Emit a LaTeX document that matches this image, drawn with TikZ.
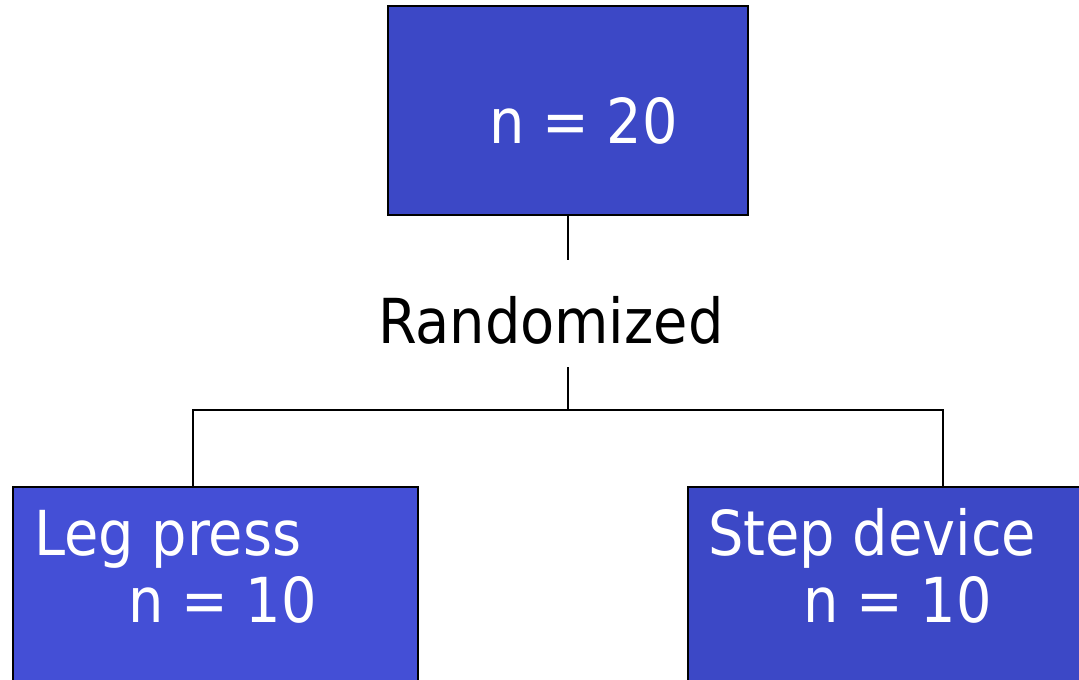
\documentclass[tikz,border=0pt]{standalone}
\usepackage{fontspec}
\setmainfont{DejaVu Sans Condensed}
\definecolor{boxblue}{RGB}{60,72,198}
\definecolor{boxblueL}{RGB}{68,79,214}
\begin{document}
\begin{tikzpicture}[x=1pt,y=-1pt,
  group/.style={draw=black,line width=1.8pt},
  lbl/.style={anchor=base west,inner sep=0pt,font=\fontsize{62}{62}\selectfont},
  wire/.style={line width=1.8pt}]
\clip (0,0) rectangle (1079,680);
\useasboundingbox (0,0) rectangle (1079,680);
% boxes
\filldraw[group,fill=boxblue] (388,6) rectangle (748,215);
\filldraw[group,fill=boxblueL] (13,487) rectangle (418,700);
\filldraw[group,fill=boxblue] (688,487) rectangle (1100,700);
\coordinate (topS) at (568,215);
\coordinate (randN) at (568,260);
\coordinate (randS) at (568,367);
\coordinate (fork) at (568,410);
\coordinate (leftN) at (193,487);
\coordinate (rightN) at (943,487);
% labels
\node[lbl,text=white] (n20) at (489,143) {n = 20};
\node[lbl] (rand) at (378,343) {Randomized};
\node[lbl,text=white] (leg) at (34,555) {Leg press};
\node[lbl,text=white] (legn) at (128,622) {n = 10};
\node[lbl,text=white] (stp) at (708,555) {Step device};
\node[lbl,text=white] (stpn) at (803,622) {n = 10};
% connectors
\draw[wire] (topS) -- (randN);
\draw[wire] (randS) -- (fork);
\draw[wire] (leftN) |- (fork) -| (rightN);
\end{tikzpicture}
\end{document}
